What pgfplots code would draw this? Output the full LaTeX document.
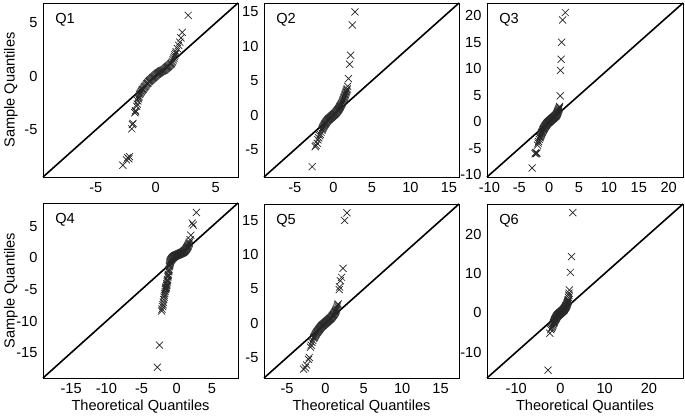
\documentclass[border=0pt]{standalone}
\usepackage{fontspec}
\setmainfont{Liberation Sans}
\usepackage{pgfplots}
\pgfplotsset{compat=1.18}
\newcommand{\qfont}{\fontsize{14.6}{16}\selectfont}
\pgfplotsset{
  qq/.style={
    scale only axis, width=195pt, height=174pt,
    anchor=north west, clip=false,
    font=\qfont,
    /pgf/number format/assume math mode=true,
    major tick length=0pt,
    axis line style={black, line width=0.9pt},
    xticklabel style={yshift=-2pt},
    yticklabel style={xshift=-2pt},
    tick label style={font=\qfont},
  },
  qqmarks/.style={only marks, mark=x, mark size=5pt, draw=black!85, mark options={line width=0.7pt}},
  qqline/.style={black, line width=1.6pt},
}
\newcommand{\qtitle}[1]{\node[anchor=west, font=\qfont] at (rel axis cs:0.045,0.905) {#1};}
\newcommand{\ylab}{\node[rotate=90, font=\qfont] at (rel axis cs:-0.165,0.5) {Sample Quantiles};}
\newcommand{\xlab}{\node[anchor=base, font=\qfont] at (rel axis cs:0.5,0) [yshift=-33pt] {Theoretical Quantiles};}
\begin{document}
\begin{tikzpicture}
\path[use as bounding box] (0,0) rectangle (685pt,417pt);
% ---------------- Q1
\begin{axis}[qq, at={(43pt,414pt)},
  xmin=-9.4, xmax=6.85, ymin=-9.4, ymax=6.85,
  xtick={-5,0,5}, ytick={-5,0,5}]
\addplot[qqline] coordinates {(-9.4,-9.4) (6.85,6.85)};
\addplot[qqmarks] table {
x y
-2.75 -8.3
-2.45 -7.8
-2.35 -7.6
-2.25 -7.7
-2.2 -7.5
-2.0 -4.9
-1.95 -4.5
-1.9 -4.4
-1.75 -3.4
-1.7 -3.2
-1.68 -3.3
-1.6 -2.8
-1.55 -2.6
-1.5 -2.3
-1.45 -2.0
-1.4 -1.9
-1.35 -1.7
-1.3 -1.6
-1.25 -1.5
-1.2 -1.4
-1.1 -1.25
-1.0 -1.1
-0.9 -0.95
-0.8 -0.8
-0.7 -0.65
-0.6 -0.5
-0.5 -0.4
-0.4 -0.3
-0.3 -0.2
-0.2 -0.1
-0.1 0.0
0 0.1
0.1 0.2
0.2 0.3
0.3 0.35
0.4 0.45
0.5 0.5
0.6 0.55
0.7 0.6
0.8 0.7
0.9 0.8
1.0 0.9
1.1 1.0
1.2 1.1
1.3 1.2
1.4 1.4
1.5 1.7
1.6 2.0
1.7 2.3
1.8 2.6
1.9 2.9
2.0 3.2
2.1 3.6
2.2 4.1
2.7 5.7
-1.45 -2.1
-1.15 -1.3
-1.05 -1.2
-0.95 -1.0
-0.85 -0.9
-0.75 -0.7
-0.65 -0.6
-0.55 -0.45
-0.45 -0.35
-0.35 -0.25
-0.25 -0.15
-0.15 -0.05
-0.05 0.05
0.05 0.15
0.15 0.25
0.25 0.32
0.35 0.4
0.45 0.48
0.55 0.52
0.65 0.58
0.75 0.65
0.85 0.75
0.95 0.85
1.05 0.95
1.15 1.05
1.25 1.15
1.35 1.3
1.45 1.55
1.55 1.85
1.65 2.15
};
\qtitle{Q1}
\ylab
\end{axis}
% ---------------- Q2
\begin{axis}[qq, at={(264pt,414pt)},
  xmin=-9.0, xmax=16.3, ymin=-9.0, ymax=16.3,
  xtick={-5,0,5,10,15}, ytick={-5,0,5,10,15}]
\addplot[qqline] coordinates {(-9.0,-9.0) (16.3,16.3)};
\addplot[qqmarks] table {
x y
-2.75 -7.5
-2.35 -4.6
-2.25 -4.4
-2.1 -4.1
-2.0 -3.6
-1.9 -3.3
-1.8 -3.0
-1.7 -2.8
-1.6 -2.5
-1.5 -2.2
-1.4 -1.9
-1.3 -1.7
-1.2 -1.5
-1.1 -1.3
-1.0 -1.15
-0.9 -1.0
-0.8 -0.85
-0.7 -0.7
-0.6 -0.6
-0.5 -0.5
-0.4 -0.4
-0.3 -0.3
-0.2 -0.2
-0.1 -0.1
0 0
0.1 0.1
0.2 0.2
0.3 0.3
0.4 0.45
0.5 0.6
0.6 0.75
0.7 0.9
0.8 1.1
0.9 1.3
1.0 1.5
1.1 1.7
1.2 2.0
1.3 2.3
1.4 2.6
1.5 2.9
1.6 3.2
1.7 3.5
1.8 3.8
1.85 4.2
1.95 5.3
2.1 7.4
2.25 8.7
2.45 13.1
2.8 15.0
-1.45 -2.05
-1.35 -1.8
-1.25 -1.6
-1.15 -1.4
-1.05 -1.22
-0.95 -1.07
-0.85 -0.92
-0.75 -0.78
-0.65 -0.65
-0.55 -0.55
-0.45 -0.45
-0.35 -0.35
-0.25 -0.25
-0.15 -0.15
-0.05 -0.05
0.05 0.05
0.15 0.15
0.25 0.25
0.35 0.38
0.45 0.52
0.55 0.68
0.65 0.82
0.75 1.0
0.85 1.2
0.95 1.4
1.05 1.6
1.15 1.85
1.25 2.15
1.35 2.45
1.45 2.75
1.55 3.05
1.65 3.35
1.75 3.65
};
\qtitle{Q2}
\end{axis}
% ---------------- Q3
\begin{axis}[qq, at={(487pt,414pt)}, width=196pt,
  xmin=-10.4, xmax=22.4, ymin=-10.4, ymax=22.4,
  xtick={-10,-5,0,5,10,15,20}, ytick={-10,-5,0,5,10,15,20}]
\addplot[qqline] coordinates {(-10.4,-10.4) (22.4,22.4)};
\addplot[qqmarks] table {
x y
-2.85 -8.7
-2.35 -6.0
-2.25 -5.8
-2.15 -6.0
-2.05 -5.9
-1.95 -4.4
-1.85 -4.0
-1.75 -3.7
-1.65 -3.3
-1.55 -3.0
-1.45 -2.7
-1.35 -2.4
-1.25 -2.1
-1.15 -1.9
-1.05 -1.6
-0.95 -1.4
-0.85 -1.2
-0.75 -1.0
-0.65 -0.8
-0.55 -0.65
-0.45 -0.5
-0.35 -0.35
-0.25 -0.2
-0.15 -0.1
-0.05 0
0.05 0.1
0.15 0.2
0.25 0.3
0.35 0.4
0.45 0.5
0.55 0.6
0.65 0.7
0.75 0.8
0.85 0.9
0.95 1.0
1.05 1.1
1.15 1.2
1.25 1.4
1.35 1.6
1.45 1.9
1.55 2.2
1.65 2.5
1.75 2.9
1.85 4.9
1.9 9.7
2.0 11.8
2.1 15.0
2.25 19.2
2.7 20.6
-1.5 -2.85
-1.4 -2.55
-1.3 -2.25
-1.2 -2.0
-1.1 -1.75
-1.0 -1.5
-0.9 -1.3
-0.8 -1.1
-0.7 -0.9
-0.6 -0.72
-0.5 -0.58
-0.4 -0.42
-0.3 -0.28
-0.2 -0.15
-0.1 -0.05
0 0.05
0.1 0.15
0.2 0.25
0.3 0.35
0.4 0.45
0.5 0.55
0.6 0.65
0.7 0.75
0.8 0.85
0.9 0.95
1.0 1.05
1.1 1.15
1.2 1.3
1.3 1.5
1.4 1.75
1.5 2.05
1.6 2.35
1.7 2.7
};
\qtitle{Q3}
\end{axis}
% ---------------- Q4
\begin{axis}[qq, at={(43pt,214pt)}, height=175pt,
  xmin=-19.0, xmax=8.7, ymin=-19.0, ymax=8.7,
  xtick={-15,-10,-5,0,5}, ytick={-15,-10,-5,0,5}]
\addplot[qqline] coordinates {(-19.0,-19.0) (8.7,8.7)};
\addplot[qqmarks] table {
x y
-2.75 -17.3
-2.45 -13.8
-2.15 -8.4
-2.1 -8.1
-2.0 -7.7
-1.95 -7.4
-1.9 -7.0
-1.85 -6.6
-1.8 -6.2
-1.75 -5.9
-1.7 -5.6
-1.65 -5.3
-1.6 -5.0
-1.55 -4.8
-1.5 -4.6
-1.45 -4.4
-1.4 -4.1
-1.35 -3.8
-1.3 -3.4
-1.25 -3.0
-1.2 -2.6
-1.15 -2.2
-1.1 -1.8
-1.05 -1.4
-1.0 -1.0
-0.95 -0.7
-0.9 -0.5
-0.8 -0.3
-0.7 -0.15
-0.6 0.0
-0.5 0.1
-0.4 0.2
-0.3 0.3
-0.2 0.35
-0.1 0.4
0 0.45
0.1 0.5
0.2 0.55
0.3 0.6
0.4 0.65
0.5 0.7
0.6 0.75
0.7 0.8
0.8 0.85
0.9 0.9
1.0 1.0
1.1 1.1
1.2 1.2
1.3 1.35
1.4 1.5
1.5 1.7
1.6 1.9
1.7 2.2
1.8 2.5
1.9 2.9
2.0 3.6
2.2 5.5
2.35 5.2
2.8 7.2
-1.58 -4.9
-1.52 -4.7
-1.42 -4.3
-1.32 -3.6
-1.22 -2.8
-1.12 -2.0
-1.02 -1.2
-0.98 -0.85
-0.92 -0.6
-0.85 -0.4
-0.75 -0.22
-0.65 -0.08
-0.55 0.05
-0.45 0.15
-0.35 0.25
-0.25 0.32
-0.15 0.38
-0.05 0.42
0.05 0.48
0.15 0.52
0.25 0.58
0.35 0.62
0.45 0.68
0.55 0.72
0.65 0.78
0.75 0.82
0.85 0.88
0.95 0.95
1.05 1.05
1.15 1.15
1.25 1.28
1.35 1.42
1.45 1.6
1.55 1.8
1.65 2.05
1.75 2.35
};
\qtitle{Q4}
\ylab
\xlab
\end{axis}
% ---------------- Q5
\begin{axis}[qq, at={(264pt,213pt)},
  xmin=-8.0, xmax=17.4, ymin=-8.0, ymax=17.4,
  xtick={-5,0,5,10,15}, ytick={-5,0,5,10,15}]
\addplot[qqline] coordinates {(-8.0,-8.0) (17.4,17.4)};
\addplot[qqmarks] table {
x y
-2.85 -6.7
-2.6 -6.5
-2.45 -6.1
-2.2 -5.3
-2.1 -5.0
-1.95 -3.5
-1.85 -3.2
-1.75 -2.8
-1.65 -2.5
-1.55 -2.2
-1.45 -2.0
-1.35 -1.8
-1.25 -1.6
-1.15 -1.4
-1.05 -1.25
-0.95 -1.1
-0.85 -0.95
-0.75 -0.8
-0.65 -0.65
-0.55 -0.5
-0.45 -0.4
-0.35 -0.3
-0.25 -0.2
-0.15 -0.1
-0.05 0.0
0.05 0.1
0.15 0.2
0.25 0.3
0.35 0.4
0.45 0.5
0.55 0.6
0.65 0.7
0.75 0.8
0.85 0.95
0.95 1.1
1.05 1.25
1.15 1.4
1.25 1.6
1.35 1.8
1.45 2.1
1.55 2.5
1.65 2.8
1.8 4.9
1.85 5.3
1.95 6.2
2.1 6.7
2.3 8.0
2.5 15.0
2.8 16.1
-1.5 -2.1
-1.4 -1.9
-1.3 -1.7
-1.2 -1.5
-1.1 -1.32
-1.0 -1.18
-0.9 -1.02
-0.8 -0.88
-0.7 -0.72
-0.6 -0.58
-0.5 -0.45
-0.4 -0.35
-0.3 -0.25
-0.2 -0.15
-0.1 -0.05
0 0.05
0.1 0.15
0.2 0.25
0.3 0.35
0.4 0.45
0.5 0.55
0.6 0.65
0.7 0.75
0.8 0.88
0.9 1.02
1.0 1.18
1.1 1.32
1.2 1.5
1.3 1.7
1.4 1.95
1.5 2.3
1.6 2.65
};
\qtitle{Q5}
\xlab
\end{axis}
% ---------------- Q6
\begin{axis}[qq, at={(487pt,213pt)}, width=196pt,
  xmin=-16.6, xmax=27.7, ymin=-16.6, ymax=27.7,
  xtick={-10,0,10,20}, ytick={-10,0,10,20}]
\addplot[qqline] coordinates {(-16.6,-16.6) (27.7,27.7)};
\addplot[qqmarks] table {
x y
-2.8 -14.6
-2.4 -5.2
-2.2 -4.3
-2.05 -4.0
-1.9 -3.7
-1.8 -3.4
-1.7 -3.1
-1.6 -2.8
-1.5 -2.5
-1.4 -2.2
-1.3 -1.9
-1.2 -1.7
-1.1 -1.5
-1.0 -1.3
-0.9 -1.1
-0.8 -0.9
-0.7 -0.75
-0.6 -0.6
-0.5 -0.5
-0.4 -0.4
-0.3 -0.3
-0.2 -0.2
-0.1 -0.1
0 0
0.1 0.1
0.2 0.2
0.3 0.3
0.4 0.4
0.5 0.5
0.6 0.6
0.7 0.7
0.8 0.85
0.9 1.0
1.0 1.2
1.1 1.4
1.2 1.6
1.3 1.8
1.4 2.0
1.5 2.3
1.6 2.6
1.7 3.0
1.8 3.4
1.85 3.9
1.9 4.5
1.95 5.0
2.0 5.8
2.25 10.3
2.5 14.3
2.8 25.5
-1.55 -2.65
-1.45 -2.35
-1.35 -2.05
-1.25 -1.8
-1.15 -1.6
-1.05 -1.4
-0.95 -1.2
-0.85 -1.0
-0.75 -0.82
-0.65 -0.68
-0.55 -0.55
-0.45 -0.45
-0.35 -0.35
-0.25 -0.25
-0.15 -0.15
-0.05 -0.05
0.05 0.05
0.15 0.15
0.25 0.25
0.35 0.35
0.45 0.45
0.55 0.55
0.65 0.65
0.75 0.78
0.85 0.92
0.95 1.1
1.05 1.3
1.15 1.5
1.25 1.7
1.35 1.9
1.45 2.15
1.55 2.45
1.65 2.8
1.75 3.2
};
\qtitle{Q6}
\xlab
\end{axis}
\end{tikzpicture}
\end{document}
